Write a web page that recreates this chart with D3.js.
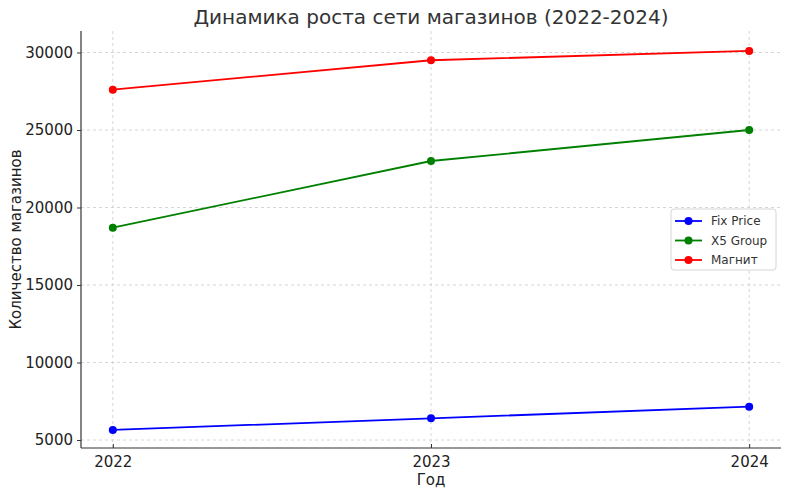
<!DOCTYPE html>
<html><head><meta charset="utf-8">
<script src="https://cdn.jsdelivr.net/npm/d3@7"></script>
<style>body{margin:0;background:#fff}text{font-family:"DejaVu Sans",sans-serif}</style>
</head><body><svg id="c" width="790" height="497"></svg>
<script>
const years = [2022, 2023, 2024];
const fixPrice = [5650, 6400, 7150];
const x5Group = [18700, 23000, 25000];
const magnit = [27600, 29500, 30100];
const seriesNames = ["Fix Price", "X5 Group", "Магнит"];
const seriesColors = ["#0000ff", "#008000", "#ff0000"];
const yTicks = [5000, 10000, 15000, 20000, 25000, 30000];
const title = "Динамика роста сети магазинов (2022-2024)";
const xLabel = "Год";
const yLabel = "Количество магазинов";

const series = [fixPrice, x5Group, magnit];
const svg = d3.select("#c");
const L = 81, R = 781, T = 31, B = 448;
const x = d3.scaleLinear().domain([2021.9, 2024.1]).range([L, R]);
const y = d3.scaleLinear().domain([4421, 31323]).range([B + 1, T + 1]);

// grid
const g = svg.append("g");
g.selectAll(".gx").data(years).enter().append("line")
  .attr("x1", d => x(d)).attr("x2", d => x(d)).attr("y1", T).attr("y2", B)
  .attr("stroke", "#cccccc").attr("stroke-width", 0.8).attr("stroke-dasharray", "3,3");
g.selectAll(".gy").data(yTicks).enter().append("line")
  .attr("x1", L).attr("x2", R).attr("y1", d => y(d)).attr("y2", d => y(d))
  .attr("stroke", "#cccccc").attr("stroke-width", 0.8).attr("stroke-dasharray", "3,3");

// axes
const xa = svg.append("g").attr("transform", `translate(0,${B})`)
  .call(d3.axisBottom(x).tickValues(years).tickFormat(d3.format("d")).tickSize(-4).tickPadding(8));
const ya = svg.append("g").attr("transform", `translate(${L},0)`)
  .call(d3.axisLeft(y).tickValues(yTicks).tickFormat(d3.format("d")).tickSize(4).tickPadding(4));
[xa, ya].forEach(a => {
  a.select(".domain").attr("stroke", "#333").attr("stroke-width", 1.2);
  a.selectAll(".tick line").attr("stroke", "#333");
  a.selectAll(".tick text").attr("font-size", 15).attr("fill", "#222").attr("font-family", "DejaVu Sans");
});
xa.select(".domain").attr("d", `M${L},0H${R}`);
ya.select(".domain").attr("d", `M0,${B}V${T}`);

// lines
const line = d3.line().x((d, i) => x(years[i])).y(d => y(d));
series.forEach((s, k) => {
  svg.append("path").datum(s).attr("d", line).attr("fill", "none")
    .attr("stroke", seriesColors[k]).attr("stroke-width", 1.8);
  svg.selectAll(null).data(s).enter().append("circle")
    .attr("cx", (d, i) => x(years[i])).attr("cy", d => y(d)).attr("r", 4)
    .attr("fill", seriesColors[k]);
});

// labels
svg.append("text").attr("x", (L + R) / 2).attr("y", 24).attr("text-anchor", "middle")
  .attr("font-size", 20).attr("fill", "#333").text(title);
svg.append("text").attr("x", (L + R) / 2).attr("y", 485).attr("text-anchor", "middle")
  .attr("font-size", 15).attr("fill", "#222").text(xLabel);
svg.append("text").attr("transform", `translate(21,${(T + B) / 2}) rotate(-90)`)
  .attr("text-anchor", "middle").attr("font-size", 15).attr("fill", "#222").text(yLabel);

// legend
const lg = svg.append("g").attr("transform", "translate(671,209)");
lg.append("rect").attr("width", 105).attr("height", 61).attr("rx", 3)
  .attr("fill", "#fff").attr("fill-opacity", 0.8).attr("stroke", "#d6d6d6");
seriesNames.forEach((n, k) => {
  const yy = 12 + k * 19.5;
  lg.append("line").attr("x1", 4).attr("x2", 31).attr("y1", yy).attr("y2", yy)
    .attr("stroke", seriesColors[k]).attr("stroke-width", 1.8);
  lg.append("circle").attr("cx", 17.5).attr("cy", yy).attr("r", 4).attr("fill", seriesColors[k]);
  lg.append("text").attr("x", 40).attr("y", yy + 4).attr("font-size", 12).attr("fill", "#333").text(n);
});
</script></body></html>
